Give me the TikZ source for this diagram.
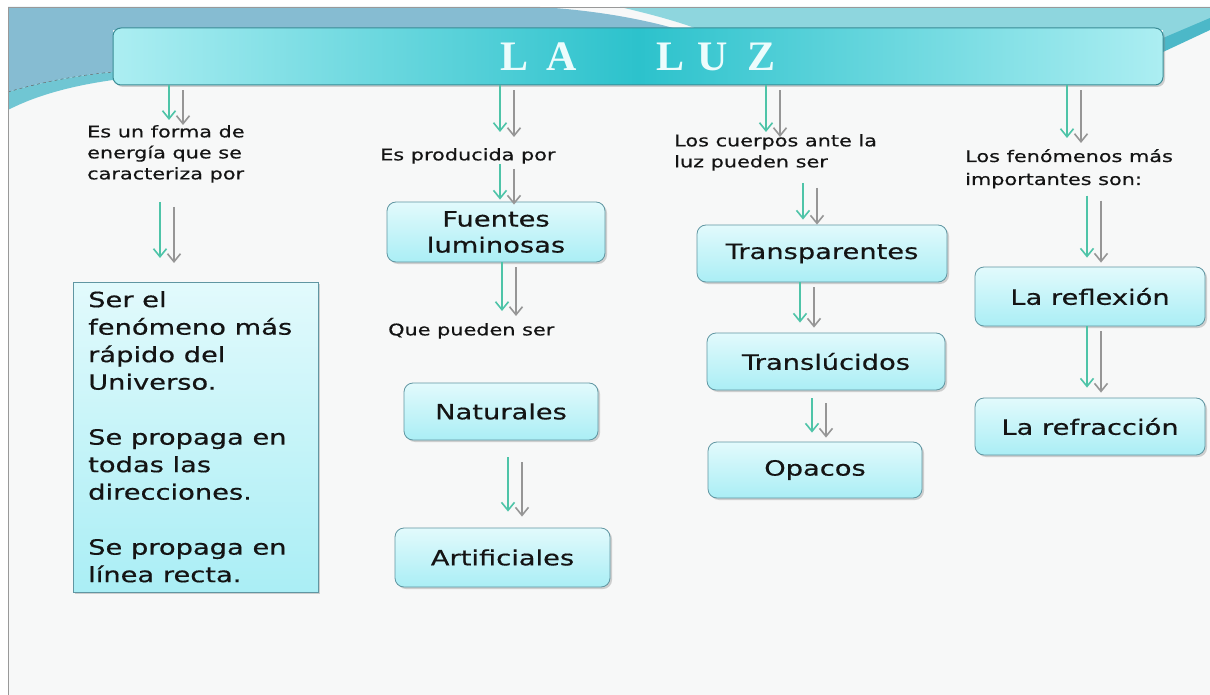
\documentclass[tikz,border=0pt]{standalone}
\usepackage{fontspec}
\newfontfamily\comicfont[FakeStretch=1.3, FakeBold=0.5]{DejaVu Sans}
\newfontfamily\titlefont{Liberation Serif}
\usetikzlibrary{arrows.meta, shadows, positioning}

\definecolor{arrowteal}{RGB}{78,196,168}
\definecolor{shadowgray}{RGB}{150,150,150}
\definecolor{boxedge}{RGB}{96,150,162}
\definecolor{boxtop}{RGB}{226,250,252}
\definecolor{boxbottom}{RGB}{170,238,245}
\definecolor{barend}{RGB}{172,238,242}
\definecolor{barmid}{RGB}{44,194,204}
\definecolor{baredge}{RGB}{58,140,150}
\definecolor{bandblue}{RGB}{134,188,210}
\definecolor{bandteal}{RGB}{142,214,222}
\definecolor{stripeteal}{RGB}{76,184,200}
\definecolor{paper}{RGB}{247,248,248}
\definecolor{ink}{RGB}{20,20,20}
\definecolor{titletext}{RGB}{236,252,252}

\begin{document}
\begin{tikzpicture}[x=1pt, y=-1pt, >={Straight Barb[length=8pt,width=13pt,line width=1.6pt]},
  conn/.style={->, draw=arrowteal, line width=2.2pt,
    preaction={draw=shadowgray, line width=2.4pt, transform canvas={xshift=14pt, yshift=-5pt}}},
  bar/.style={draw=baredge, line width=1pt, rounded corners=8pt, left color=barend, right color=barend, middle color=barmid,
    minimum width=1050pt, minimum height=57pt, drop shadow={shadow xshift=2pt, shadow yshift=-2pt, opacity=0.35},
    font=\titlefont\bfseries\fontsize{42}{42}\selectfont, text=titletext},
  box/.style={draw=boxedge, line width=0.8pt, rounded corners=9pt, top color=boxtop, bottom color=boxbottom,
    drop shadow={shadow xshift=2pt, shadow yshift=-2pt, opacity=0.35},
    font=\comicfont\fontsize{21}{26}\selectfont, text=ink, align=center},
  sqbox/.style={draw=boxedge, line width=0.8pt, top color=boxtop, bottom color=boxbottom,
    drop shadow={shadow xshift=2pt, shadow yshift=-2pt, opacity=0.35}},
  note/.style={inner sep=0pt, align=left, text=ink, font=\comicfont\fontsize{16}{21}\selectfont}]

  \useasboundingbox (0,0) rectangle (1210,695);
  \fill[white] (0,0) rectangle (1210,695);
  \fill[paper] (8,7) rectangle (1210,695);
  \fill[bandblue] (8,7) -- (540,7) .. controls (590,10) and (640,18) .. (680,30) -- (113,30) -- (113,72)
    .. controls (70,76) and (35,84) .. (8,92) -- cycle;
  \fill[stripeteal!80] (8,92) .. controls (35,84) and (70,76) .. (113,72) -- (113,80)
    .. controls (70,86) and (35,96) .. (8,110) -- cycle;
  \draw[dashed, gray!70!black] (8,92) .. controls (35,84) and (70,76) .. (113,72);
  \fill[bandteal] (620,7) .. controls (650,14) and (680,22) .. (700,30) -- (1163,30) -- (1163,40) -- (1210,20) -- (1210,7) -- cycle;
  \fill[stripeteal] (1163,38) -- (1210,18) -- (1210,30) -- (1163,52) -- cycle;
  \draw[gray!80] (8,695) -- (8,7) -- (1210,7);

  \node[bar] (title) at (638,56.5) {L\hspace{18pt}A\hspace{80pt}L\hspace{12pt}U\hspace{20pt}Z\hspace{22pt}};

  \node[note, anchor=north west] (q1) at (87,125) {Es un forma de\\energía que se\\caracteriza por};
  \node[sqbox, anchor=north west, minimum width=245pt, minimum height=310pt] (props) at (73,282) {};
  \node[note, anchor=north west, font=\comicfont\fontsize{21}{27.5}\selectfont] (propstext) at (88,291)
    {Ser el\\fenómeno más\\rápido del\\Universo.\\[27.5pt]Se propaga en\\todas las\\direcciones.\\[27.5pt]Se propaga en\\línea recta.};

  \node[note, anchor=north west] (q2) at (380,148) {Es producida por};
  \node[box, minimum width=218pt, minimum height=60pt] (fuentes) at (496,232) {Fuentes\\luminosas};
  \node[note, anchor=north west] (q3) at (388,323) {Que pueden ser};
  \node[box, minimum width=194pt, minimum height=57pt] (nat) at (501,411.5) {Naturales};
  \node[box, minimum width=215pt, minimum height=59pt] (art) at (502.5,557.5) {Artificiales};

  \node[note, anchor=north west] (q4) at (674,134) {Los cuerpos ante la\\luz pueden ser};
  \node[box, minimum width=250pt, minimum height=57pt] (trans) at (822,253.5) {Transparentes};
  \node[box, minimum width=238pt, minimum height=57pt] (transl) at (826,361.5) {Translúcidos};
  \node[box, minimum width=214pt, minimum height=56pt] (opacos) at (815,470) {Opacos};

  \node[note, anchor=north west, font=\comicfont\fontsize{16}{23}\selectfont] (q5) at (965,149) {Los fenómenos más\\importantes son:};
  \node[box, minimum width=230pt, minimum height=59pt] (refl) at (1090,296.5) {La reflexión};
  \node[box, minimum width=230pt, minimum height=57pt] (refr) at (1090,426.5) {La refracción};

  \draw[conn, shorten >=5pt] (title.south -| 169,0) -- (q1.north -| 169,0);
  \draw[conn, shorten <=19pt, shorten >=24pt] (q1.south -| 160,0) -- (props.north -| 160,0);
  \draw[conn, shorten >=16pt] (title.south -| 500,0) -- (q2.north -| 500,0);
  \draw[conn, shorten >=2pt] (q2.south -| 500,0) -- (fuentes.north -| 500,0);
  \draw[conn, shorten >=12pt] (fuentes.south -| 502,0) -- (q3.north -| 502,0);
  \draw[conn, shorten <=17pt, shorten >=16pt] (nat.south -| 508,0) -- (art.north -| 508,0);
  \draw[conn, shorten >=2pt] (title.south -| 766,0) -- (q4.north -| 766,0);
  \draw[conn, shorten <=12pt, shorten >=5pt] (q4.south -| 803,0) -- (trans.north -| 803,0);
  \draw[conn, shorten >=10pt] (trans.south -| 800,0) -- (transl.north -| 800,0);
  \draw[conn, shorten <=8pt, shorten >=9pt] (transl.south -| 812,0) -- (opacos.north -| 812,0);
  \draw[conn, shorten >=11pt] (title.south -| 1067,0) -- (q5.north -| 1067,0);
  \draw[conn, shorten <=7pt, shorten >=9pt] (q5.south -| 1087,0) -- (refl.north -| 1087,0);
  \draw[conn, shorten >=10pt] (refl.south -| 1087,0) -- (refr.north -| 1087,0);
\end{tikzpicture}
\end{document}
